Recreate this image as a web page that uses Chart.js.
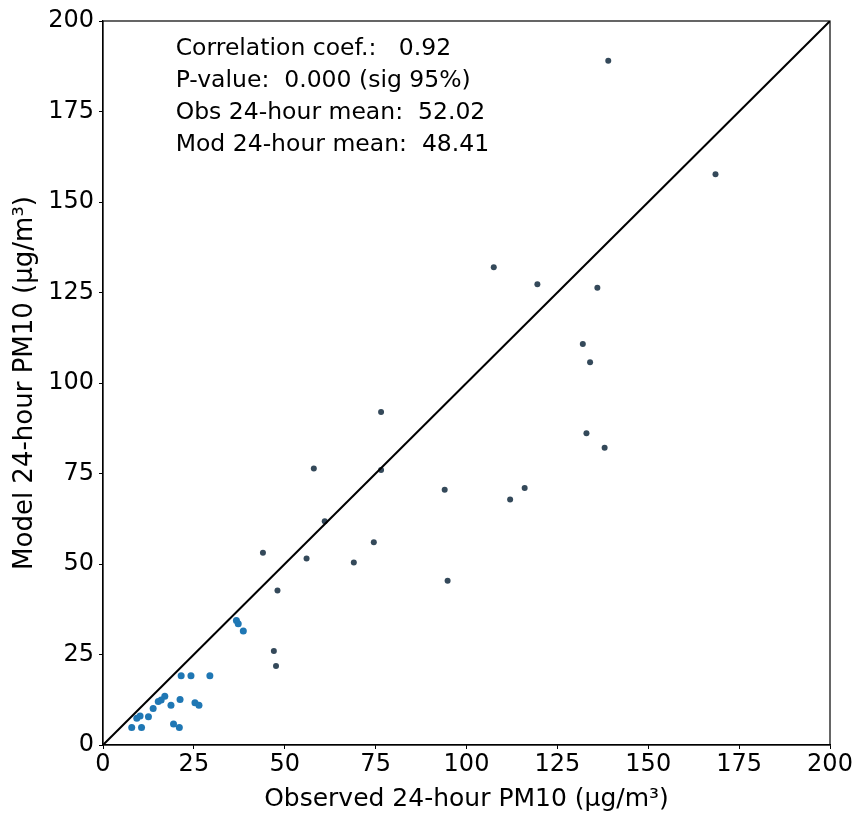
<!DOCTYPE html>
<html>
<head>
<meta charset="utf-8">
<script src="https://cdn.jsdelivr.net/npm/chart.js@4.4.0/dist/chart.umd.min.js"></script>
<style>
  html, body { margin: 0; padding: 0; background: #fff; }
  #wrap { width: 854px; height: 814px; position: relative; }
</style>
</head>
<body>
<div id="wrap"><canvas id="scatter"></canvas></div>
<script>
// observed vs model 24-hour PM10 pairs
const observed = [139, 168.5, 107.5, 119.5, 136, 132, 134, 76.5, 133, 138, 58, 76.5, 94, 116, 112, 61, 44, 56, 74.5, 69, 48, 94.8,
  36.7, 37.2, 38.6, 47, 47.6, 21.5, 24.2, 29.4, 17, 16, 15.2, 21.2, 18.7, 25.3, 26.4, 13.8, 12.5, 10.2, 9.3, 7.9, 10.6, 19.4, 21];
const modelled = [189, 157.7, 132, 127.3, 126.3, 110.8, 105.7, 92, 86.1, 82.1, 76.4, 76, 70.5, 71, 67.8, 61.8, 53.1, 51.5, 56, 50.4, 42.7, 45.4,
  34.4, 33.5, 31.5, 26, 21.8, 19.1, 19.1, 19.1, 13.5, 12.4, 12, 12.6, 11, 11.7, 11, 10.1, 7.8, 8, 7.4, 4.8, 4.8, 5.8, 4.8];
const oneToOne = [0, 200];
const tickValues = [0, 25, 50, 75, 100, 125, 150, 175, 200];
const statsLines = [
  'Correlation coef.:   0.92',
  'P-value:  0.000 (sig 95%)',
  'Obs 24-hour mean:  52.02',
  'Mod 24-hour mean:  48.41'
];

const FONT = "'DejaVu Sans', sans-serif";

const boxAndText = {
  id: 'boxAndText',
  afterDraw(chart) {
    const { ctx, chartArea: a, scales } = chart;
    ctx.save();
    ctx.strokeStyle = '#000';
    ctx.lineWidth = 1.2;
    ctx.strokeRect(a.left, a.top, a.right - a.left, a.bottom - a.top);
    ctx.fillStyle = '#000';
    ctx.font = '23.5px ' + FONT;
    ctx.textBaseline = 'middle';
    const x = scales.x.getPixelForValue(20);
    statsLines.forEach((line, i) => {
      ctx.fillText(line, x, a.top + 28 + i * 32);
    });
    ctx.restore();
  }
};

new Chart(document.getElementById('scatter'), {
  type: 'scatter',
  data: {
    datasets: [
      {
        data: observed.map((v, i) => ({ x: v, y: modelled[i] })),
        pointRadius: ctx => (ctx.raw && ctx.raw.x < 40 ? 3.5 : 3),
        pointBackgroundColor: ctx => (ctx.raw && ctx.raw.x < 40 ? '#1f77b4' : '#34495a'),
        pointBorderWidth: 0,
        order: 2
      },
      {
        type: 'line',
        data: oneToOne.map(v => ({ x: v, y: v })),
        borderColor: '#000',
        borderWidth: 2,
        pointRadius: 0,
        order: 1
      }
    ]
  },
  options: {
    responsive: true,
    maintainAspectRatio: false,
    animation: false,
    layout: { padding: { top: 21, right: 24, left: 0, bottom: 0 } },
    plugins: { legend: { display: false }, tooltip: { enabled: false } },
    scales: {
      x: {
        type: 'linear',
        min: 0,
        max: 200,
        afterBuildTicks: axis => { axis.ticks = tickValues.map(v => ({ value: v })); },
        afterFit: axis => { axis.height = 69; },
        grid: { drawOnChartArea: false, drawTicks: true, tickLength: 4, color: '#000' },
        border: { display: true, color: '#000', width: 1.2 },
        ticks: { color: '#000', font: { family: FONT, size: 24 }, padding: 1, maxRotation: 0 },
        title: { display: true, text: 'Observed 24-hour PM10 (μg/m³)', color: '#000', font: { family: FONT, size: 25 }, padding: { top: 2, bottom: 0 } }
      },
      y: {
        type: 'linear',
        min: 0,
        max: 200,
        afterBuildTicks: axis => { axis.ticks = tickValues.map(v => ({ value: v })); },
        afterFit: axis => { axis.width = 103; },
        grid: { drawOnChartArea: false, drawTicks: true, tickLength: 4, color: '#000' },
        border: { display: true, color: '#000', width: 1.2 },
        ticks: { color: '#000', font: { family: FONT, size: 24 }, padding: 5 },
        title: { display: true, text: 'Model 24-hour PM10 (μg/m³)', color: '#000', font: { family: FONT, size: 26 }, padding: { top: 10, bottom: 0 } }
      }
    }
  },
  plugins: [boxAndText]
});
</script>
</body>
</html>
